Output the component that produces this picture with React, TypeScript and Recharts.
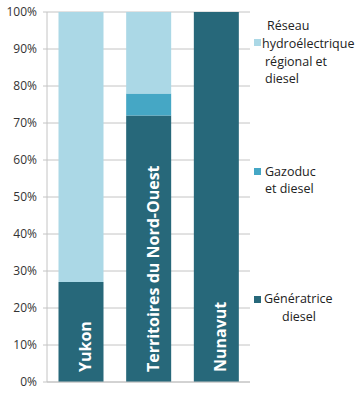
import React from "react";
import { BarChart, Bar, XAxis, YAxis, CartesianGrid, LabelList } from "recharts";

const regions = ["Yukon", "Territoires du Nord-Ouest", "Nunavut"];
const generatrice = [27, 72, 100];
const gazoduc = [0, 6, 0];
const reseau = [73, 22, 0];
const yTicks = [0, 10, 20, 30, 40, 50, 60, 70, 80, 90, 100];

const data = regions.map((name, i) => ({
  name,
  generatrice: generatrice[i],
  gazoduc: gazoduc[i],
  reseau: reseau[i],
}));

const DARK = "#27687a";
const MID = "#45a7c5";
const LIGHT = "#abd8e6";
const FONT = "'Open Sans', sans-serif";

// category name written up the dark segment, as in the original
function BarName(props: any) {
  const { x, y, width, height, value } = props;
  const bx = x + width / 2 + 10;
  const by = y + height - 10;
  return (
    <text
      x={bx}
      y={by}
      transform={`rotate(-90 ${bx} ${by})`}
      fill="#fff"
      fontFamily={FONT}
      fontWeight={700}
      fontSize={16}
      textAnchor="start"
    >
      {value}
    </text>
  );
}

const line = (text: string, left: number, top: number) => (
  <div key={text + top} style={{ position: "absolute", left, top, lineHeight: "17px", whiteSpace: "nowrap" }}>
    {text}
  </div>
);

const swatch = (color: string, left: number, top: number) => (
  <div key={color} style={{ position: "absolute", left, top, width: 7, height: 7, background: color }} />
);

function LegendBox() {
  return (
    <div style={{ position: "absolute", left: 254, top: 0, width: 110, height: 400, fontFamily: FONT, fontSize: 12.5, color: "#222" }}>
      {swatch(LIGHT, 0, 39)}
      {line("Réseau", 13, 17)}
      {line("hydroélectrique", 8, 35)}
      {line("régional et", 11, 53)}
      {line("diesel", 11, 70)}
      {swatch(MID, 0, 168)}
      {line("Gazoduc", 11, 163)}
      {line("et diesel", 11, 180)}
      {swatch(DARK, 0, 296)}
      {line("Génératrice", 10, 290)}
      {line("diesel", 28, 308)}
    </div>
  );
}

export default function App() {
  return (
    <div style={{ position: "absolute", left: 0, top: 0, width: 364, height: 400, background: "#fff" }}>
      <BarChart
        width={364}
        height={400}
        data={data}
        margin={{ top: 12, right: 114, bottom: 17, left: 0 }}
        barCategoryGap="17%"
      >
        <CartesianGrid vertical={false} stroke="#c4c4c4" />
        <XAxis dataKey="name" tick={false} axisLine={{ stroke: "#c4c4c4" }} tickLine={false} height={1} />
        <YAxis
          width={47}
          domain={[0, 100]}
          ticks={yTicks}
          tickFormatter={(v: number) => `${v}%`}
          tick={{ fontFamily: FONT, fontSize: 12, fill: "#333" }}
          axisLine={{ stroke: "#c4c4c4" }}
          tickLine={{ stroke: "#c4c4c4" }}
          tickSize={4}
          tickMargin={6}
          interval={0}
        />
        <Bar dataKey="generatrice" name="Génératrice diesel" stackId="a" fill={DARK} isAnimationActive={false}>
          <LabelList dataKey="name" content={<BarName />} />
        </Bar>
        <Bar dataKey="gazoduc" name="Gazoduc et diesel" stackId="a" fill={MID} isAnimationActive={false} />
        <Bar dataKey="reseau" name="Réseau hydroélectrique régional et diesel" stackId="a" fill={LIGHT} isAnimationActive={false} />
      </BarChart>
      <LegendBox />
    </div>
  );
}
